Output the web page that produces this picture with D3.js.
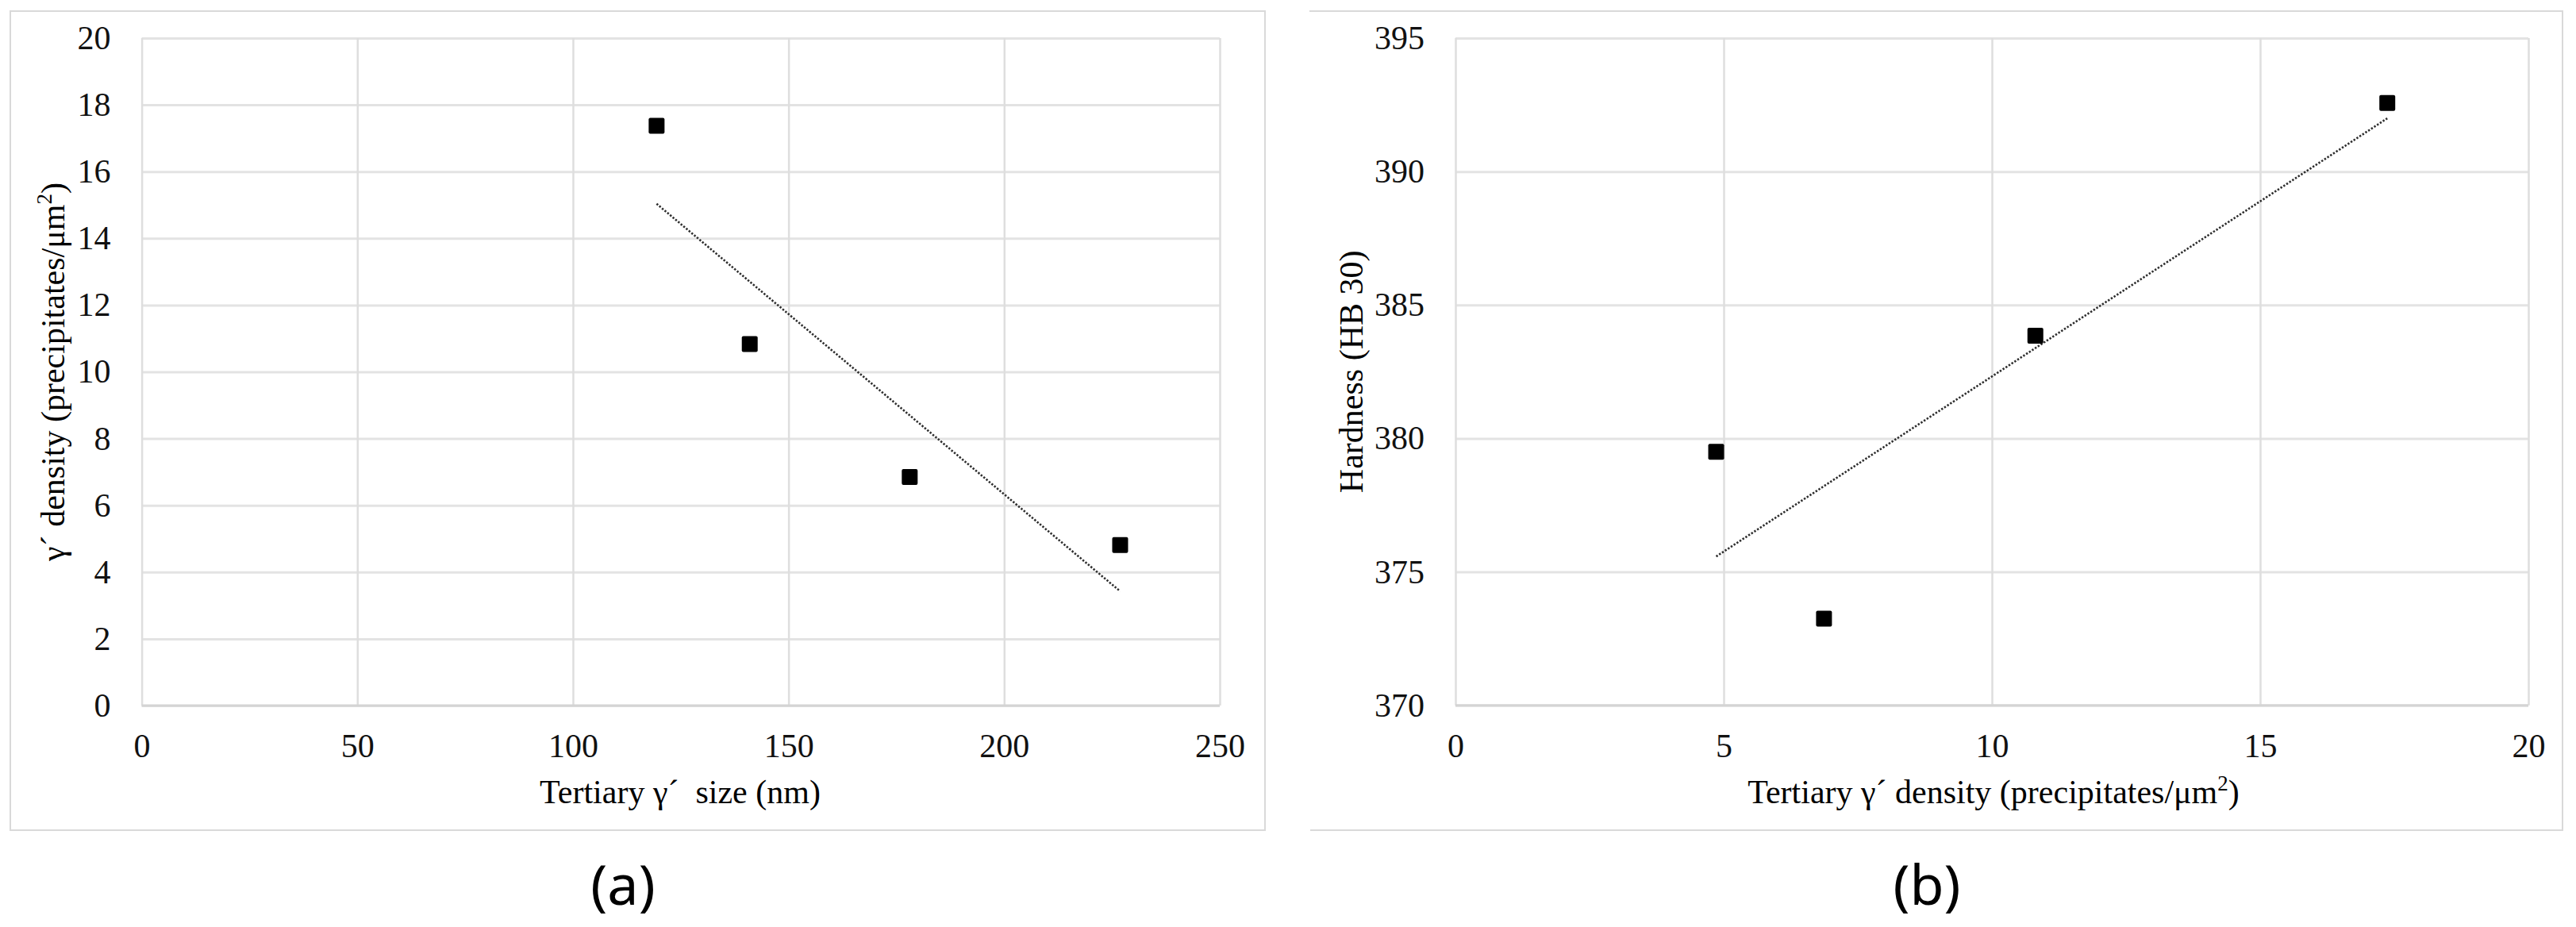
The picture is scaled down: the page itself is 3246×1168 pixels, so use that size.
<!DOCTYPE html>
<html>
<head>
<meta charset="utf-8">
<script src="https://cdn.jsdelivr.net/npm/d3@7"></script>
<style>
  body { margin: 0; background: #fff; }
  svg { display: block; }
</style>
</head>
<body>
<div id="chart"></div>
<script>
// data
const sizeNm = [119.4, 141.0, 178.1, 226.9]
const densityA = [17.37, 10.83, 6.85, 4.81]
const densityB = [4.86, 6.87, 10.81, 17.37]
const hardness = [379.5, 373.25, 383.85, 392.57]

const ticksSize = [0, 50, 100, 150, 200, 250]
const ticksDensityA = [0, 2, 4, 6, 8, 10, 12, 14, 16, 18, 20]
const ticksDensityB = [0, 5, 10, 15, 20]
const ticksHardness = [370, 375, 380, 385, 390, 395]

const W = 3246, H = 1168
const FONT = "'Liberation Serif', 'Times New Roman', serif"

const svg = d3.select("#chart").append("svg")
    .attr("width", W)
    .attr("height", H)

svg.append("rect").attr("width", W).attr("height", H).attr("fill", "#fff")

// outer frames
svg.append("rect")
    .attr("x", 13).attr("y", 14)
    .attr("width", 1594 - 13).attr("height", 1046 - 14)
    .attr("fill", "none").attr("stroke", "#d9d9d9").attr("stroke-width", 2)

svg.append("path")
    .attr("d", "M1650,14 H3229 V1046 H1651")
    .attr("fill", "none").attr("stroke", "#d9d9d9").attr("stroke-width", 2)

function linFit(xs, ys) {
  const mx = d3.mean(xs), my = d3.mean(ys)
  let sxy = 0, sxx = 0
  xs.forEach((x, i) => { sxy += (x - mx) * (ys[i] - my); sxx += (x - mx) * (x - mx) })
  const b = sxy / sxx
  return x => my + b * (x - mx)
}

function scatter(opt) {
  const x = d3.scaleLinear().domain(d3.extent(opt.xTicks)).range([opt.left, opt.right])
  const y = d3.scaleLinear().domain(d3.extent(opt.yTicks)).range([opt.bottom, opt.top])
  const g = svg.append("g")

  // horizontal grid + y labels
  const ya = g.append("g")
      .attr("transform", `translate(${opt.left},0)`)
      .call(d3.axisLeft(y).tickValues(opt.yTicks).tickSize(-(opt.right - opt.left)).tickPadding(39))
  ya.select(".domain").remove()
  ya.selectAll("line").attr("stroke", "#e3e3e3").attr("stroke-width", 3)

  // vertical grid + x labels
  const xa = g.append("g")
      .attr("transform", `translate(0,${opt.bottom})`)
      .call(d3.axisBottom(x).tickValues(opt.xTicks).tickSize(-(opt.bottom - opt.top)).tickPadding(35))
  xa.select(".domain").remove()
  xa.selectAll("line").attr("stroke", "#dedede").attr("stroke-width", 2.5)

  g.selectAll(".tick text")
      .attr("font-family", FONT)
      .attr("font-size", 42)
      .attr("fill", "#111")

  // bottom axis line a touch darker
  g.append("line")
      .attr("x1", opt.left).attr("x2", opt.right)
      .attr("y1", opt.bottom).attr("y2", opt.bottom)
      .attr("stroke", "#d4d4d4").attr("stroke-width", 3)

  // trendline
  const f = linFit(opt.xs, opt.ys)
  const ex = d3.extent(opt.xs)
  g.append("line")
      .attr("x1", x(ex[0])).attr("y1", y(f(ex[0])))
      .attr("x2", x(ex[1])).attr("y2", y(f(ex[1])))
      .attr("stroke", "#2e2e2e")
      .attr("stroke-width", 2.6)
      .attr("stroke-dasharray", "2.4 2")

  // markers
  g.selectAll("rect.pt")
      .data(opt.xs.map((v, i) => [v, opt.ys[i]]))
      .enter().append("rect")
      .attr("class", "pt")
      .attr("x", d => x(d[0]) - 10)
      .attr("y", d => y(d[1]) - 10)
      .attr("width", 20).attr("height", 20)
      .attr("rx", 2)
      .attr("fill", "#000")

  // x title
  const xt = g.append("text")
      .attr("x", opt.xTitleX).attr("y", 1012)
      .attr("text-anchor", "middle")
      .attr("font-family", FONT).attr("font-size", 42)
      .style("white-space", "pre")
  opt.xTitle(xt)

  // y title
  const yt = g.append("text")
      .attr("transform", `translate(${opt.yTitleX},${(opt.top + opt.bottom) / 2}) rotate(-90)`)
      .attr("text-anchor", "middle")
      .attr("font-family", FONT).attr("font-size", 42)
      .style("white-space", "pre")
  opt.yTitle(yt)

  // panel label
  g.append("text")
      .attr("x", opt.labelX).attr("y", 1140)
      .attr("text-anchor", "middle")
      .attr("font-family", "'Noto Sans', sans-serif")
      .attr("font-size", 70)
      .text(opt.label)
}

function sup(t, s) {
  t.append("tspan").text(s).attr("font-size", 27).attr("dy", -16)
}

scatter({
  left: 178.6, right: 1537, top: 48, bottom: 889,
  xTicks: ticksSize, yTicks: ticksDensityA,
  xs: sizeNm, ys: densityA,
  xTitleX: 857, yTitleX: 81, labelX: 785, label: "(a)",
  xTitle: t => t.text("Tertiary γ´  size (nm)"),
  yTitle: t => {
    t.append("tspan").text("γ´ density (precipitates/μm")
    sup(t, "2")
    t.append("tspan").text(")").attr("dy", 16)
  }
})

scatter({
  left: 1834, right: 3186, top: 48, bottom: 888.7,
  xTicks: ticksDensityB, yTicks: ticksHardness,
  xs: densityB, ys: hardness,
  xTitleX: 2512, yTitleX: 1717, labelX: 2428, label: "(b)",
  xTitle: t => {
    t.append("tspan").text("Tertiary γ´ density (precipitates/μm")
    sup(t, "2")
    t.append("tspan").text(")").attr("dy", 16)
  },
  yTitle: t => t.text("Hardness (HB 30)")
})
</script>
</body>
</html>
